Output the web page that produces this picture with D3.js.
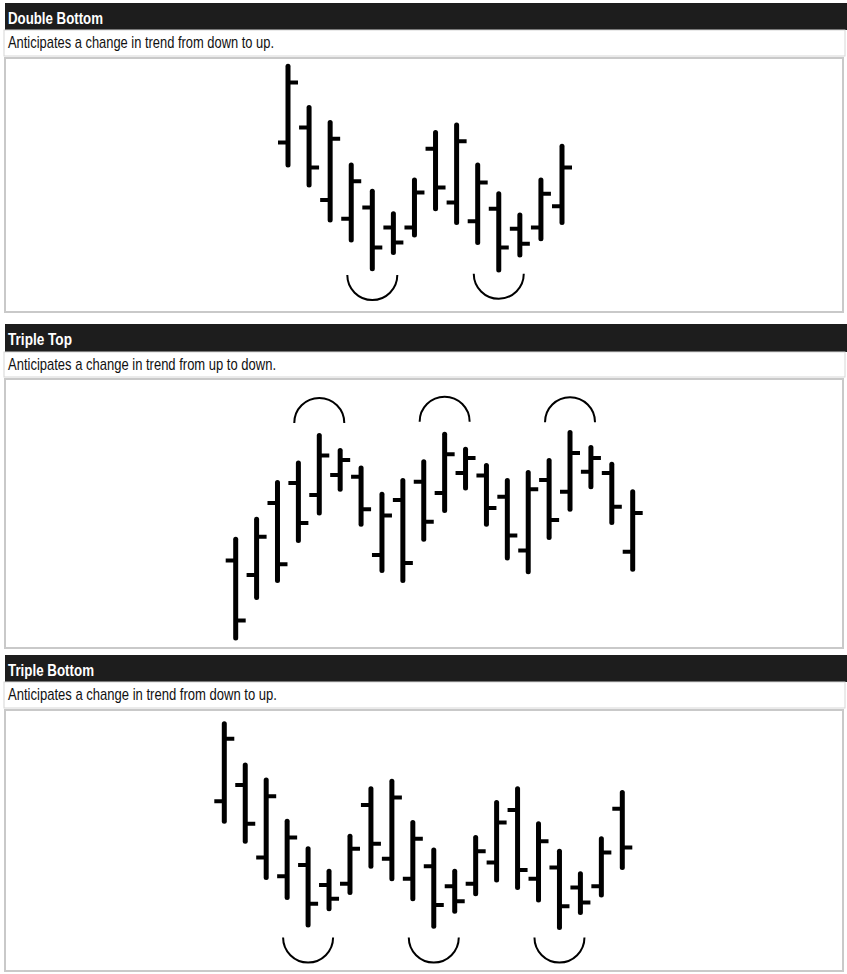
<!DOCTYPE html>
<html>
<head>
<meta charset="utf-8">
<script src="https://cdn.jsdelivr.net/npm/d3@7"></script>
<style>
  html, body { margin: 0; padding: 0; background: #fff; }
  svg { display: block; }
</style>
</head>
<body>
<svg id="chart" width="847" height="974"></svg>
<script>
// ---------- DATA ----------
const panelTitles = ["Double Bottom", "Triple Top", "Triple Bottom"];
const panelSubtitles = [
  "Anticipates a change in trend from down to up.",
  "Anticipates a change in trend from up to down.",
  "Anticipates a change in trend from down to up."
];

// Double Bottom (14 bars)
const dbOpen  = [67, 73, 44, 36.5, 41, 33, 33, 64.5, 43, 35.5, 40.5, 32.5, 33, 41.5];
const dbHigh  = [98.5, 82, 76, 59, 48.5, 39.5, 53, 72, 75, 59, 47.5, 39, 53, 66.5];
const dbLow   = [57, 49, 35, 27, 15.5, 22, 29, 39.5, 34, 26, 15, 21, 27.5, 34];
const dbClose = [91, 57, 68.5, 51.5, 25, 27, 47, 49, 67.5, 51, 25, 26.5, 46.5, 57];
const dbArcs  = [{ bar: 4, value: 14 }, { bar: 10, value: 14.5 }];

// Triple Top (20 bars)
const ttOpen  = [35, 29.2, 58, 66, 61.2, 69.2, 68.5, 37.2, 59.2, 66.5, 62, 70, 69, 60.5, 39, 67.2, 62.5, 70.5, 70, 38.5];
const ttHigh  = [44.5, 52.5, 67.2, 75, 86, 80, 73, 62.5, 68, 75.5, 86.5, 80.5, 74, 68, 71.2, 76, 87.2, 81.2, 74.5, 63.5];
const ttLow   = [3, 19.2, 26, 42, 53, 62.5, 48.5, 30, 26, 42.5, 54, 63, 48.5, 35, 29.5, 43.2, 54.5, 63.5, 49.2, 30.5];
const ttClose = [11, 44.5, 33.5, 50, 77, 75.2, 55.5, 53, 34, 50.5, 77.5, 76, 56, 45, 63.5, 51.2, 78, 76, 56.5, 54];
const ttArcs  = [{ bar: 4, value: 90 }, { bar: 10, value: 90.5 }, { bar: 16, value: 90.3 }];

// Triple Bottom (20 bars)
const tbOpen  = [67.5, 74, 45, 37.5, 42, 34, 34.5, 66, 44.5, 36.5, 41.5, 33.5, 34.5, 43, 64, 36.5, 41, 33, 33.5, 64.5];
const tbHigh  = [99.5, 83, 77, 60.5, 49.5, 40.5, 54.5, 73.5, 76.5, 60, 49, 40.5, 54, 68, 73.5, 59.5, 48.5, 39.5, 53.5, 72];
const tbLow   = [58.5, 50.5, 36, 28, 17, 23.5, 30, 40.5, 35.5, 27.5, 16.5, 22.5, 29.5, 35, 32, 27, 16, 22, 29, 40];
const tbClose = [92.5, 58.5, 69.5, 53, 26.5, 28.5, 48.5, 50.5, 69, 52.5, 26, 27.5, 47.5, 59, 40, 51.5, 25.5, 27, 47, 49];
const tbArcs  = [{ bar: 4, value: 13 }, { bar: 10, value: 13 }, { bar: 16, value: 13 }];

// ---------- LAYOUT ----------
const W = 847;
const panels = [
  { title: panelTitles[0], sub: panelSubtitles[0], open: dbOpen, high: dbHigh, low: dbLow, close: dbClose, arcs: dbArcs, arcDir: "down",
    headerY: 3, subY: 30, boxY: 58, boxBottom: 312, titleW: 95, subW: 266, y0: 310, x0: 288, x1: 562 },
  { title: panelTitles[1], sub: panelSubtitles[1], open: ttOpen, high: ttHigh, low: ttLow, close: ttClose, arcs: ttArcs, arcDir: "up",
    headerY: 324, subY: 352, boxY: 379, boxBottom: 648, titleW: 64, subW: 268, y0: 648, x0: 235.7, x1: 632.7 },
  { title: panelTitles[2], sub: panelSubtitles[2], open: tbOpen, high: tbHigh, low: tbLow, close: tbClose, arcs: tbArcs, arcDir: "down",
    headerY: 655, subY: 682, boxY: 710, boxBottom: 971, titleW: 86, subW: 269, y0: 970, x0: 224.3, x1: 622.3 }
];

const svg = d3.select("#chart");
svg.append("rect").attr("width", W).attr("height", 974).attr("fill", "#ffffff");

const fontStack = "'Liberation Sans', Arial, Helvetica, sans-serif";

panels.forEach(p => {
  const g = svg.append("g");
  // header bar
  g.append("rect").attr("x", 5).attr("y", p.headerY).attr("width", W - 5).attr("height", p.subY - p.headerY)
    .attr("fill", "#1d1d1d");
  g.append("text").attr("x", 8).attr("y", p.headerY + 21)
    .attr("font-family", fontStack).attr("font-weight", "bold").attr("font-size", 16.5)
    .attr("fill", "#ffffff")
    .attr("textLength", p.titleW).attr("lengthAdjust", "spacingAndGlyphs")
    .text(p.title);
  // subtitle row
  g.append("rect").attr("x", 4).attr("y", p.subY).attr("width", W - 6).attr("height", p.boxY - p.subY - 2)
    .attr("fill", "#ffffff").attr("stroke", "#d6d6d6").attr("stroke-width", 1);
  g.append("text").attr("x", 8).attr("y", p.subY + 18)
    .attr("font-family", fontStack).attr("font-size", 17).attr("fill", "#111")
    .attr("textLength", p.subW).attr("lengthAdjust", "spacingAndGlyphs")
    .text(p.sub);
  // chart box
  g.append("rect").attr("x", 5).attr("y", p.boxY).attr("width", W - 9).attr("height", p.boxBottom - p.boxY)
    .attr("fill", "#ffffff").attr("stroke", "#c9c9c9").attr("stroke-width", 2);

  const n = p.high.length;
  const x = d3.scaleLinear().domain([0, n - 1]).range([p.x0, p.x1]);
  const y = d3.scaleLinear().domain([0, 100]).range([p.y0, p.y0 - 250]);
  const bars = d3.range(n).map(i => ({ i, o: p.open[i], h: p.high[i], l: p.low[i], c: p.close[i] }));

  const bg = g.append("g");
  bg.selectAll("line.hl").data(bars).join("line").attr("class", "hl")
    .attr("x1", d => x(d.i)).attr("x2", d => x(d.i))
    .attr("y1", d => y(d.h) + 2.5).attr("y2", d => y(d.l) - 2.5)
    .attr("stroke", "#000").attr("stroke-width", 5).attr("stroke-linecap", "round");
  bg.selectAll("line.op").data(bars).join("line").attr("class", "op")
    .attr("x1", d => x(d.i) - 10).attr("x2", d => x(d.i))
    .attr("y1", d => y(d.o)).attr("y2", d => y(d.o))
    .attr("stroke", "#000").attr("stroke-width", 4);
  bg.selectAll("line.cl").data(bars).join("line").attr("class", "cl")
    .attr("x1", d => x(d.i)).attr("x2", d => x(d.i) + 10)
    .attr("y1", d => y(d.c)).attr("y2", d => y(d.c))
    .attr("stroke", "#000").attr("stroke-width", 4);

  // arcs
  const r = 25;
  const start = p.arcDir === "down" ? Math.PI / 2 : -Math.PI / 2;
  bg.selectAll("path.arc").data(p.arcs).join("path").attr("class", "arc")
    .attr("transform", d => `translate(${x(d.bar)},${y(d.value)})`)
    .attr("d", () => d3.arc()({ innerRadius: r, outerRadius: r, startAngle: start, endAngle: start + Math.PI }))
    .attr("fill", "none").attr("stroke", "#000").attr("stroke-width", 2);
});
</script>
</body>
</html>
